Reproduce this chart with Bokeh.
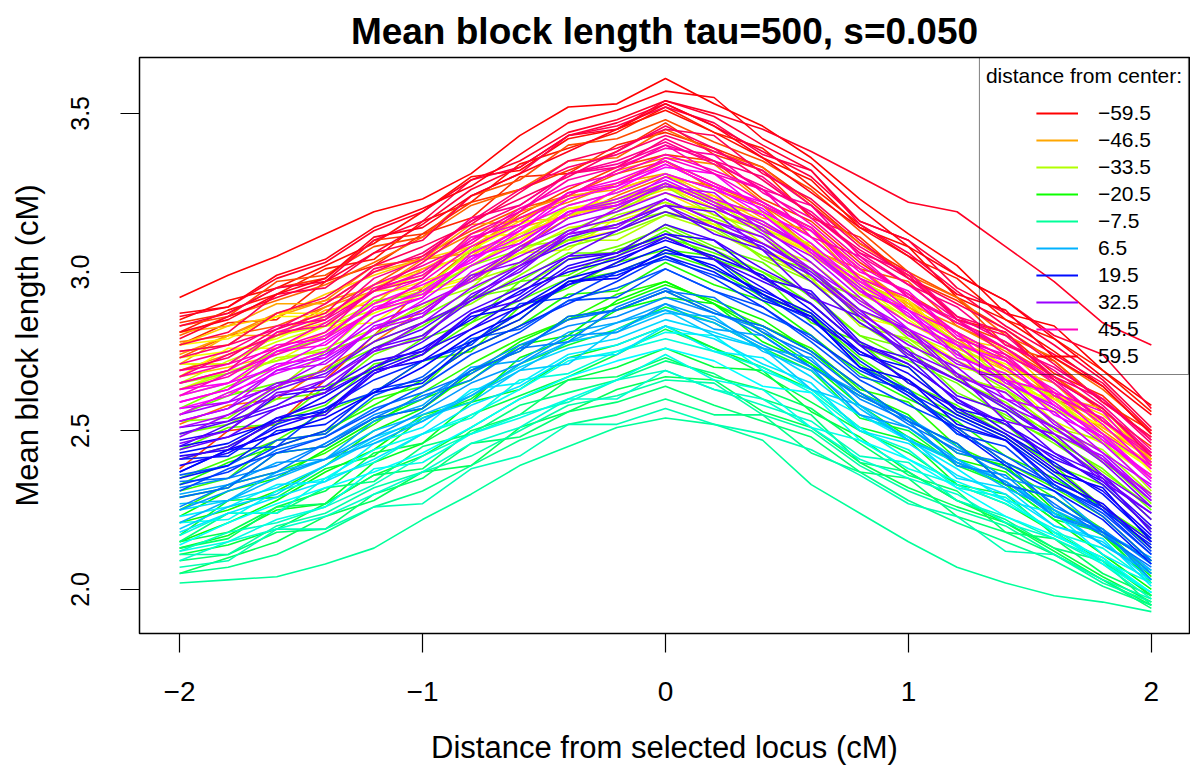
import colorsys
from bokeh.plotting import figure
from bokeh.models import Range1d, FixedTicker, Legend, LegendItem
from bokeh.embed import file_html
from bokeh.resources import INLINE

# ---------------- data ----------------
positions = [-2.0, -1.8, -1.6, -1.4, -1.2, -1.0, -0.8, -0.6, -0.4, -0.2, 0.0,
             0.2, 0.4, 0.6, 0.8, 1.0, 1.2, 1.4, 1.6, 1.8, 2.0]

distances = [-59.5 + k for k in range(120)]

legend_distances = [-59.5, -46.5, -33.5, -20.5, -7.5, 6.5, 19.5, 32.5, 45.5, 59.5]

# mean block length (cM) per distance from center, read at each position
red_orange_series = [
    [2.92,2.99,3.05,3.12,3.19,3.23,3.31,3.43,3.52,3.53,3.61,3.53,3.46,3.36,3.23,3.12,3.02,2.87,2.83,2.69,2.58],
    [2.85,2.91,2.95,3.02,3.09,3.19,3.30,3.32,3.42,3.45,3.51,3.44,3.36,3.29,3.14,3.08,2.92,2.85,2.75,2.64,2.49],
    [2.81,2.88,2.93,3.01,3.04,3.16,3.22,3.34,3.39,3.44,3.52,3.44,3.39,3.27,3.15,3.05,2.98,2.85,2.79,2.69,2.56],
    [2.77,2.84,2.85,2.97,3.02,3.12,3.17,3.30,3.31,3.40,3.44,3.39,3.33,3.22,3.09,3.00,2.85,2.81,2.68,2.61,2.47],
    [2.84,2.87,2.95,2.98,3.10,3.12,3.22,3.26,3.32,3.38,3.47,3.37,3.32,3.17,3.11,2.98,2.91,2.82,2.72,2.59,2.50],
    [2.38,2.50,2.52,2.66,2.80,2.95,3.07,3.18,3.26,3.33,3.37,3.35,3.23,3.16,3.03,2.93,2.84,2.78,2.67,2.56,2.45],
    [2.83,2.86,2.97,2.99,3.08,3.11,3.24,3.29,3.40,3.42,3.48,3.41,3.35,3.26,3.13,3.00,2.92,2.77,2.72,2.59,2.48],
    [2.73,2.80,2.83,2.89,2.96,3.05,3.13,3.20,3.24,3.31,3.35,3.28,3.21,3.14,3.01,2.97,2.83,2.76,2.67,2.57,2.43],
    [2.80,2.86,2.91,2.96,3.03,3.11,3.21,3.26,3.35,3.36,3.45,3.38,3.33,3.21,3.09,2.99,2.92,2.80,2.73,2.63,2.50],
    [2.52,2.58,2.60,2.70,2.78,2.88,2.98,3.08,3.17,3.24,3.30,3.27,3.21,3.11,2.98,2.91,2.77,2.73,2.60,2.54,2.40],
    [2.78,2.80,2.87,2.91,3.02,3.04,3.12,3.17,3.22,3.28,3.35,3.26,3.21,3.07,3.01,2.90,2.83,2.75,2.65,2.53,2.43],
    [2.69,2.74,2.80,2.89,2.94,3.04,3.06,3.19,3.24,3.32,3.36,3.34,3.22,3.14,3.01,2.89,2.81,2.73,2.62,2.50,2.39],
    [2.74,2.80,2.86,2.91,2.95,3.01,3.08,3.17,3.23,3.28,3.31,3.26,3.17,3.13,2.97,2.90,2.79,2.69,2.61,2.53,2.41],
]
yellow_series = [
    [2.81,2.83,2.90,2.90,3.00,3.04,3.15,3.16,3.24,3.26,3.31,3.22,3.19,3.08,2.99,2.91,2.81,2.70,2.65,2.51,2.41],
    [2.71,2.80,2.80,2.88,2.90,3.01,3.05,3.14,3.18,3.22,3.28,3.23,3.15,3.08,2.93,2.89,2.78,2.72,2.61,2.57,2.41],
    [2.67,2.70,2.74,2.81,2.90,2.95,3.04,3.12,3.18,3.21,3.27,3.20,3.19,3.05,2.97,2.86,2.76,2.69,2.60,2.51,2.42],
    [2.77,2.83,2.86,2.93,2.99,3.04,3.08,3.16,3.17,3.26,3.31,3.24,3.16,3.06,2.97,2.90,2.79,2.76,2.62,2.55,2.42],
    [2.71,2.71,2.80,2.84,2.92,2.97,3.02,3.10,3.18,3.21,3.26,3.24,3.13,3.06,2.94,2.84,2.76,2.70,2.59,2.49,2.39],
    [2.75,2.77,2.87,2.87,2.94,2.95,3.06,3.10,3.20,3.20,3.25,3.18,3.14,3.06,2.95,2.84,2.77,2.64,2.60,2.49,2.40],
    [2.77,2.79,2.86,2.86,2.96,3.00,3.11,3.12,3.20,3.22,3.27,3.20,3.14,3.07,2.95,2.91,2.77,2.71,2.62,2.53,2.40],
    [2.67,2.76,2.76,2.83,2.84,2.94,2.98,3.06,3.10,3.13,3.19,3.15,3.07,3.01,2.86,2.82,2.72,2.66,2.56,2.52,2.37],
    [2.73,2.75,2.79,2.86,2.94,2.99,3.07,3.15,3.20,3.23,3.28,3.21,3.19,3.05,2.96,2.85,2.75,2.67,2.58,2.48,2.38],
    [2.63,2.69,2.72,2.80,2.87,2.93,2.97,3.06,3.07,3.17,3.22,3.15,3.07,2.97,2.88,2.81,2.70,2.67,2.53,2.46,2.35],
    [2.71,2.71,2.80,2.83,2.90,2.94,2.99,3.06,3.14,3.16,3.21,3.20,3.09,3.03,2.91,2.81,2.74,2.68,2.58,2.48,2.39],
    [2.65,2.72,2.78,2.83,2.88,2.94,3.02,3.11,3.18,3.23,3.27,3.22,3.13,3.09,2.93,2.86,2.75,2.65,2.57,2.49,2.35],
    [2.61,2.65,2.73,2.75,2.88,2.94,3.07,3.11,3.21,3.25,3.31,3.22,3.19,3.07,2.98,2.88,2.78,2.66,2.61,2.46,2.36],
    [2.63,2.68,2.72,2.76,2.82,2.89,2.97,3.02,3.10,3.10,3.18,3.13,3.05,2.98,2.83,2.79,2.68,2.62,2.51,2.47,2.31],
    [2.55,2.62,2.63,2.75,2.80,2.90,2.95,3.08,3.10,3.18,3.22,3.17,3.11,3.01,2.88,2.81,2.67,2.63,2.50,2.44,2.30],
    [2.65,2.68,2.75,2.79,2.91,2.93,3.02,3.07,3.13,3.19,3.27,3.18,3.13,2.98,2.92,2.79,2.72,2.63,2.53,2.40,2.30],
    [2.53,2.54,2.64,2.69,2.78,2.84,2.90,2.99,3.08,3.12,3.18,3.16,3.04,2.97,2.84,2.74,2.66,2.59,2.48,2.37,2.26],
    [2.57,2.64,2.70,2.75,2.80,2.86,2.94,3.03,3.10,3.15,3.19,3.14,3.05,3.01,2.85,2.78,2.67,2.57,2.49,2.41,2.27],
    [2.49,2.52,2.60,2.62,2.74,2.80,2.92,2.95,3.04,3.08,3.14,3.07,3.00,2.93,2.80,2.76,2.62,2.55,2.46,2.36,2.22],
    [2.55,2.61,2.65,2.69,2.76,2.83,2.92,2.97,3.06,3.06,3.15,3.08,3.03,2.92,2.80,2.72,2.65,2.54,2.47,2.38,2.25],
]
green_series = [
    [2.44,2.51,2.52,2.64,2.69,2.79,2.84,2.97,2.99,3.07,3.11,3.06,3.00,2.90,2.77,2.70,2.56,2.52,2.39,2.33,2.19],
    [2.41,2.45,2.53,2.58,2.71,2.74,2.84,2.91,2.98,3.05,3.13,3.04,2.99,2.84,2.78,2.65,2.58,2.49,2.39,2.26,2.16],
    [2.35,2.41,2.47,2.56,2.62,2.72,2.75,2.89,2.95,3.03,3.07,3.05,2.93,2.86,2.73,2.63,2.55,2.48,2.37,2.26,2.15],
    [2.31,2.35,2.47,2.49,2.60,2.64,2.78,2.85,2.97,3.00,3.06,3.01,2.92,2.87,2.71,2.62,2.51,2.40,2.32,2.23,2.09],
    [2.25,2.33,2.37,2.43,2.52,2.62,2.71,2.79,2.85,2.93,2.97,2.90,2.83,2.76,2.63,2.59,2.45,2.38,2.29,2.19,2.05],
    [2.33,2.40,2.45,2.50,2.58,2.66,2.76,2.83,2.93,2.94,3.03,2.96,2.91,2.80,2.68,2.60,2.53,2.42,2.35,2.26,2.13],
    [2.21,2.25,2.31,2.39,2.50,2.57,2.68,2.78,2.85,2.90,2.96,2.91,2.85,2.75,2.62,2.55,2.41,2.37,2.24,2.18,2.04],
    [2.23,2.31,2.35,2.44,2.53,2.60,2.66,2.77,2.80,2.91,2.97,2.90,2.81,2.71,2.61,2.54,2.43,2.39,2.25,2.17,2.03],
    [2.15,2.21,2.28,2.37,2.44,2.55,2.59,2.73,2.79,2.88,2.92,2.90,2.78,2.71,2.58,2.48,2.40,2.33,2.22,2.11,2.00],
    [2.29,2.32,2.43,2.45,2.54,2.57,2.69,2.75,2.86,2.88,2.94,2.87,2.83,2.75,2.64,2.53,2.46,2.33,2.29,2.18,2.09],
    [2.13,2.17,2.25,2.27,2.40,2.46,2.59,2.63,2.73,2.77,2.83,2.76,2.70,2.63,2.51,2.47,2.33,2.27,2.18,2.09,1.98],
    [2.17,2.28,2.29,2.38,2.42,2.54,2.60,2.71,2.77,2.82,2.89,2.84,2.76,2.69,2.54,2.50,2.39,2.33,2.22,2.18,2.02],
    [2.11,2.14,2.19,2.27,2.36,2.42,2.51,2.60,2.66,2.70,2.76,2.70,2.69,2.56,2.48,2.37,2.28,2.21,2.13,2.04,1.96],
    [2.15,2.18,2.26,2.31,2.43,2.46,2.55,2.61,2.67,2.74,2.82,2.76,2.68,2.59,2.50,2.43,2.33,2.30,2.17,2.10,1.98],
    [2.05,2.10,2.15,2.23,2.28,2.37,2.39,2.51,2.56,2.63,2.67,2.66,2.56,2.51,2.40,2.32,2.26,2.21,2.12,2.03,1.95],
    [2.13,2.16,2.26,2.27,2.36,2.38,2.50,2.55,2.66,2.67,2.73,2.67,2.63,2.57,2.46,2.36,2.31,2.18,2.16,2.05,1.98],
    [2.09,2.11,2.18,2.19,2.30,2.35,2.46,2.48,2.56,2.59,2.64,2.58,2.53,2.48,2.37,2.35,2.23,2.18,2.11,2.03,1.94],
    [2.15,2.24,2.24,2.32,2.34,2.45,2.49,2.58,2.62,2.66,2.72,2.68,2.60,2.55,2.40,2.37,2.28,2.22,2.13,2.09,1.95],
    [2.05,2.07,2.11,2.18,2.26,2.31,2.39,2.47,2.52,2.55,2.60,2.55,2.55,2.43,2.37,2.28,2.21,2.15,2.09,2.01,1.95],
    [2.02,2.03,2.04,2.08,2.13,2.22,2.30,2.39,2.45,2.51,2.54,2.52,2.47,2.33,2.24,2.15,2.07,2.02,1.98,1.96,1.93],
    [2.11,2.11,2.20,2.24,2.32,2.37,2.42,2.50,2.58,2.61,2.66,2.65,2.55,2.50,2.39,2.31,2.25,2.20,2.11,2.02,1.96],
    [2.07,2.09,2.19,2.19,2.26,2.27,2.38,2.42,2.52,2.52,2.57,2.52,2.49,2.44,2.36,2.27,2.23,2.12,2.11,2.03,1.97],
    [2.12,2.18,2.21,2.26,2.33,2.42,2.49,2.55,2.59,2.66,2.69,2.63,2.58,2.53,2.42,2.40,2.28,2.23,2.16,2.08,1.97],
    [2.09,2.15,2.19,2.23,2.30,2.37,2.46,2.51,2.60,2.60,2.69,2.63,2.60,2.51,2.41,2.35,2.30,2.21,2.16,2.09,1.99],
]
cyan_blue_series = [
    [2.17,2.24,2.24,2.35,2.40,2.49,2.54,2.66,2.68,2.75,2.79,2.75,2.70,2.62,2.50,2.44,2.32,2.29,2.18,2.13,2.02],
    [2.12,2.15,2.22,2.26,2.38,2.40,2.49,2.54,2.60,2.66,2.74,2.66,2.63,2.51,2.47,2.38,2.33,2.27,2.19,2.09,2.02],
    [2.21,2.22,2.31,2.35,2.44,2.49,2.55,2.63,2.72,2.75,2.81,2.80,2.69,2.63,2.51,2.41,2.34,2.28,2.18,2.08,1.99],
    [2.14,2.21,2.27,2.32,2.37,2.43,2.51,2.60,2.67,2.72,2.76,2.72,2.64,2.62,2.47,2.41,2.32,2.23,2.17,2.10,1.99],
    [2.23,2.26,2.33,2.34,2.46,2.51,2.63,2.65,2.74,2.77,2.83,2.75,2.73,2.63,2.55,2.47,2.38,2.28,2.24,2.11,2.03],
    [2.18,2.24,2.29,2.34,2.41,2.49,2.58,2.64,2.73,2.74,2.83,2.79,2.71,2.65,2.50,2.46,2.36,2.30,2.20,2.16,2.01],
    [2.25,2.28,2.32,2.39,2.48,2.53,2.62,2.70,2.76,2.79,2.85,2.81,2.76,2.67,2.55,2.48,2.35,2.32,2.20,2.15,2.03],
    [2.19,2.26,2.30,2.39,2.47,2.54,2.59,2.69,2.71,2.82,2.88,2.80,2.76,2.63,2.58,2.47,2.41,2.34,2.25,2.14,2.06],
    [2.27,2.28,2.37,2.41,2.50,2.55,2.61,2.69,2.78,2.81,2.87,2.86,2.75,2.69,2.57,2.47,2.40,2.34,2.24,2.14,2.05],
    [2.21,2.28,2.35,2.41,2.46,2.53,2.61,2.71,2.78,2.84,2.88,2.84,2.76,2.73,2.58,2.51,2.41,2.32,2.25,2.18,2.06],
    [2.30,2.33,2.40,2.41,2.53,2.58,2.70,2.72,2.81,2.84,2.90,2.82,2.80,2.70,2.62,2.54,2.45,2.35,2.31,2.18,2.10],
    [2.25,2.31,2.36,2.41,2.48,2.56,2.65,2.71,2.80,2.81,2.90,2.85,2.77,2.70,2.55,2.51,2.40,2.34,2.23,2.19,2.03],
    [2.32,2.35,2.39,2.46,2.55,2.60,2.69,2.77,2.83,2.86,2.92,2.87,2.82,2.72,2.60,2.53,2.39,2.36,2.23,2.18,2.05],
    [2.26,2.33,2.37,2.46,2.54,2.61,2.66,2.76,2.78,2.89,2.95,2.88,2.80,2.70,2.61,2.54,2.43,2.40,2.26,2.19,2.08],
    [2.34,2.35,2.44,2.48,2.57,2.62,2.68,2.76,2.85,2.88,2.94,2.92,2.81,2.74,2.62,2.52,2.44,2.38,2.27,2.17,2.07],
    [2.29,2.32,2.43,2.45,2.54,2.57,2.69,2.75,2.86,2.88,2.94,2.87,2.83,2.75,2.64,2.53,2.46,2.33,2.29,2.18,2.09],
    [2.36,2.39,2.47,2.49,2.61,2.67,2.79,2.82,2.91,2.95,3.01,2.94,2.87,2.80,2.67,2.63,2.49,2.42,2.33,2.23,2.09],
    [2.31,2.38,2.43,2.48,2.56,2.64,2.74,2.81,2.91,2.92,3.01,2.94,2.89,2.78,2.66,2.58,2.51,2.40,2.33,2.24,2.11],
    [2.37,2.44,2.45,2.57,2.62,2.72,2.77,2.90,2.92,3.00,3.04,2.99,2.93,2.83,2.70,2.63,2.49,2.45,2.32,2.26,2.12],
    [2.33,2.37,2.45,2.50,2.63,2.66,2.76,2.83,2.90,2.97,3.05,2.98,2.89,2.79,2.69,2.62,2.51,2.47,2.33,2.25,2.11],
    [2.41,2.42,2.52,2.57,2.66,2.72,2.78,2.87,2.96,3.00,3.06,3.04,2.92,2.85,2.72,2.62,2.54,2.47,2.36,2.25,2.14],
    [2.35,2.39,2.50,2.52,2.62,2.65,2.78,2.85,2.97,2.99,3.05,3.00,2.91,2.86,2.70,2.61,2.50,2.39,2.31,2.22,2.08],
    [2.43,2.46,2.54,2.56,2.68,2.74,2.86,2.89,2.98,3.02,3.08,3.01,2.94,2.87,2.74,2.70,2.56,2.49,2.40,2.30,2.16],
    [2.37,2.44,2.49,2.54,2.62,2.70,2.80,2.87,2.97,2.98,3.07,3.02,2.93,2.86,2.70,2.66,2.55,2.48,2.37,2.32,2.15],
    [2.45,2.48,2.53,2.61,2.70,2.76,2.85,2.94,3.00,3.04,3.10,3.05,2.99,2.88,2.75,2.66,2.52,2.47,2.34,2.27,2.13],
    [2.39,2.43,2.51,2.56,2.69,2.72,2.82,2.89,2.96,3.03,3.11,3.04,2.95,2.85,2.75,2.68,2.57,2.53,2.39,2.31,2.17],
    [2.42,2.44,2.54,2.59,2.69,2.75,2.82,2.92,3.02,3.06,3.12,3.10,2.98,2.90,2.77,2.65,2.57,2.49,2.38,2.26,2.15],
    [2.47,2.50,2.61,2.63,2.72,2.75,2.87,2.93,3.04,3.06,3.12,3.07,2.98,2.94,2.78,2.71,2.60,2.50,2.42,2.34,2.20],
    [2.41,2.45,2.53,2.55,2.68,2.74,2.87,2.91,3.01,3.05,3.11,3.04,2.97,2.90,2.77,2.73,2.59,2.52,2.43,2.33,2.19],
    [2.45,2.52,2.57,2.62,2.70,2.78,2.88,2.95,3.05,3.06,3.15,3.10,3.01,2.93,2.77,2.71,2.60,2.52,2.41,2.35,2.18],
]
violet_red_series = [
    [2.49,2.53,2.58,2.66,2.76,2.82,2.92,3.02,3.09,3.13,3.19,3.14,3.08,2.97,2.84,2.75,2.61,2.56,2.43,2.36,2.22],
    [2.44,2.48,2.57,2.62,2.76,2.80,2.91,2.98,3.05,3.13,3.21,3.12,3.07,2.92,2.86,2.73,2.66,2.57,2.47,2.34,2.24],
    [2.51,2.53,2.63,2.68,2.78,2.84,2.91,3.01,3.11,3.15,3.21,3.19,3.07,2.99,2.86,2.74,2.66,2.58,2.47,2.35,2.24],
    [2.46,2.50,2.62,2.64,2.75,2.79,2.93,3.00,3.12,3.15,3.21,3.14,3.09,3.00,2.88,2.75,2.68,2.53,2.49,2.36,2.26],
    [2.53,2.57,2.65,2.67,2.80,2.86,2.99,3.03,3.13,3.17,3.23,3.16,3.09,3.01,2.88,2.82,2.68,2.60,2.51,2.40,2.26],
    [2.48,2.55,2.61,2.66,2.75,2.84,2.95,3.02,3.12,3.14,3.23,3.16,3.11,2.99,2.87,2.77,2.70,2.58,2.51,2.41,2.28],
    [2.55,2.59,2.64,2.72,2.82,2.88,2.98,3.08,3.15,3.19,3.25,3.20,3.14,3.03,2.90,2.81,2.67,2.62,2.49,2.42,2.28],
    [2.51,2.55,2.64,2.69,2.83,2.87,2.98,3.05,3.12,3.20,3.28,3.21,3.12,3.01,2.91,2.82,2.71,2.66,2.52,2.43,2.29],
    [2.57,2.59,2.69,2.74,2.84,2.90,2.97,3.07,3.17,3.21,3.27,3.25,3.13,3.05,2.92,2.80,2.72,2.64,2.53,2.41,2.30],
    [2.53,2.57,2.69,2.71,2.82,2.86,3.00,3.07,3.19,3.22,3.28,3.21,3.16,3.07,2.95,2.82,2.75,2.60,2.56,2.43,2.33],
    [2.59,2.63,2.71,2.73,2.86,2.92,3.05,3.09,3.19,3.23,3.29,3.22,3.15,3.07,2.94,2.88,2.74,2.66,2.57,2.46,2.32],
    [2.55,2.62,2.68,2.73,2.82,2.91,3.02,3.09,3.19,3.21,3.30,3.23,3.18,3.06,2.94,2.84,2.77,2.65,2.58,2.48,2.35],
    [2.61,2.65,2.70,2.78,2.88,2.94,3.04,3.14,3.21,3.25,3.31,3.26,3.20,3.09,2.96,2.87,2.73,2.68,2.55,2.48,2.34],
    [2.57,2.61,2.70,2.75,2.89,2.93,3.04,3.11,3.18,3.26,3.34,3.27,3.18,3.07,2.97,2.88,2.77,2.72,2.58,2.49,2.35],
    [2.63,2.65,2.75,2.80,2.90,2.96,3.03,3.13,3.23,3.27,3.33,3.31,3.19,3.11,2.98,2.86,2.78,2.70,2.59,2.47,2.36],
    [2.59,2.63,2.75,2.77,2.88,2.92,3.06,3.13,3.25,3.28,3.34,3.27,3.22,3.13,3.01,2.88,2.81,2.66,2.62,2.49,2.39],
    [2.65,2.69,2.77,2.79,2.92,2.98,3.11,3.15,3.25,3.29,3.35,3.28,3.21,3.13,3.00,2.94,2.80,2.72,2.63,2.52,2.38],
    [2.61,2.68,2.74,2.79,2.88,2.97,3.08,3.15,3.25,3.27,3.36,3.31,3.22,3.14,2.98,2.92,2.81,2.73,2.62,2.56,2.39],
    [2.67,2.71,2.76,2.84,2.94,3.00,3.10,3.20,3.27,3.31,3.37,3.32,3.26,3.15,3.02,2.93,2.79,2.74,2.61,2.54,2.40],
    [2.63,2.67,2.76,2.81,2.95,2.99,3.10,3.17,3.24,3.32,3.40,3.31,3.26,3.11,3.05,2.92,2.85,2.76,2.66,2.53,2.43],
    [2.69,2.71,2.81,2.86,2.96,3.02,3.09,3.19,3.29,3.33,3.39,3.37,3.25,3.17,3.04,2.92,2.84,2.76,2.65,2.53,2.42],
    [2.65,2.69,2.81,2.83,2.94,2.98,3.12,3.19,3.31,3.34,3.40,3.35,3.26,3.21,3.05,2.96,2.85,2.74,2.66,2.57,2.43],
    [2.71,2.75,2.83,2.85,2.98,3.04,3.17,3.21,3.31,3.35,3.41,3.34,3.27,3.19,3.06,3.00,2.86,2.78,2.69,2.58,2.44],
    [2.67,2.74,2.80,2.85,2.94,3.03,3.14,3.21,3.31,3.33,3.42,3.35,3.30,3.18,3.06,2.96,2.89,2.77,2.70,2.60,2.47],
    [2.73,2.77,2.82,2.90,3.00,3.06,3.16,3.26,3.33,3.37,3.43,3.38,3.32,3.21,3.08,2.99,2.85,2.80,2.67,2.60,2.46],
    [2.69,2.73,2.82,2.87,3.01,3.05,3.16,3.23,3.30,3.38,3.46,3.39,3.29,3.18,3.07,2.98,2.86,2.81,2.66,2.57,2.42],
    [2.75,2.77,2.87,2.92,3.02,3.08,3.15,3.25,3.35,3.39,3.45,3.43,3.31,3.23,3.10,2.98,2.90,2.82,2.71,2.59,2.48],
    [2.77,2.81,2.93,2.95,3.06,3.10,3.24,3.31,3.43,3.46,3.52,3.47,3.37,3.32,3.15,3.06,2.94,2.83,2.74,2.65,2.50],
    [2.83,2.87,2.95,2.97,3.10,3.16,3.29,3.33,3.43,3.47,3.53,3.46,3.38,3.30,3.16,3.10,2.95,2.87,2.77,2.66,2.51],
    [2.79,2.86,2.92,2.97,3.06,3.15,3.26,3.33,3.43,3.45,3.54,3.49,3.40,3.32,3.16,3.10,2.99,2.91,2.80,2.74,2.57],
    [2.86,2.89,2.98,3.03,3.13,3.19,3.29,3.35,3.44,3.48,3.54,3.50,3.45,3.38,3.30,3.22,3.19,3.08,2.97,2.84,2.77],
    [2.81,2.85,2.93,2.98,3.11,3.14,3.24,3.31,3.38,3.45,3.53,3.46,3.36,3.25,3.14,3.05,2.93,2.88,2.73,2.64,2.49],
    [2.87,2.89,2.99,3.04,3.14,3.20,3.27,3.37,3.47,3.51,3.57,3.55,3.42,3.34,3.20,3.08,2.99,2.91,2.79,2.67,2.55],
]

all_series = red_orange_series + yellow_series + green_series + cyan_blue_series + violet_red_series

# ---------------- styling ----------------
FONT = "Liberation Sans"
n = len(distances)


def rainbow(k, total):
    r, g, b = colorsys.hsv_to_rgb(k / total, 1.0, 1.0)
    return "#%02X%02X%02X" % (int(round(r * 255)), int(round(g * 255)), int(round(b * 255)))


colors = [rainbow(k, n) for k in range(n)]

p = figure(width=1190, height=767, output_backend="svg", toolbar_location=None,
           x_range=Range1d(-2.165, 2.157), y_range=Range1d(1.861, 3.676),
           min_border_left=139, min_border_right=1, min_border_top=57, min_border_bottom=134,
           title="Mean block length tau=500, s=0.050")

p.background_fill_color = "white"
p.border_fill_color = "white"
p.outline_line_color = "black"
p.outline_line_width = 1.5
p.xgrid.visible = False
p.ygrid.visible = False

p.title.text_font = FONT
p.title.text_font_size = "37px"
p.title.text_font_style = "bold"
p.title.text_color = "black"
p.title.align = "center"
p.title.standoff = 12

p.xaxis.ticker = FixedTicker(ticks=[-2, -1, 0, 1, 2])
p.xaxis.major_label_overrides = {-2: "\u22122", -1: "\u22121", 0: "0", 1: "1", 2: "2"}
p.yaxis.ticker = FixedTicker(ticks=[2.0, 2.5, 3.0, 3.5])
p.yaxis.major_label_overrides = {2.0: "2.0", 2.5: "2.5", 3.0: "3.0", 3.5: "3.5"}
p.yaxis.major_label_orientation = "vertical"

for ax in (p.xaxis[0], p.yaxis[0]):
    ax.axis_line_color = None
    ax.major_tick_line_color = "black"
    ax.major_tick_line_width = 1.2
    ax.major_tick_out = 19
    ax.major_tick_in = 0
    ax.minor_tick_line_color = None
    ax.major_label_text_font = FONT
    ax.major_label_text_color = "black"
    ax.axis_label_text_font = FONT
    ax.axis_label_text_font_style = "normal"
    ax.axis_label_text_font_size = "31px"
    ax.axis_label_text_color = "black"

p.xaxis.axis_label = "Distance from selected locus (cM)"
p.xaxis.major_label_text_font_size = "28px"
p.xaxis.major_label_standoff = 29
p.xaxis.axis_label_standoff = 26

p.yaxis.axis_label = "Mean block length (cM)"
p.yaxis.major_label_text_font_size = "25px"
p.yaxis.major_label_standoff = 31
p.yaxis.axis_label_standoff = 24

p.multi_line(xs=[positions] * n, ys=all_series, line_color=colors, line_width=1.6)

# legend: one-point sample renderers (invisible on the plot) carry each entry's style
items = []
for d in legend_distances:
    k = distances.index(d)
    r = p.line(x=[positions[0]], y=[all_series[k][0]], line_color=colors[k],
               line_width=1.8, line_dash="0 50 42 1000")
    label = ("\u2212" + ("%g" % abs(d))) if d < 0 else ("%g" % d)
    items.append(LegendItem(label=label, renderers=[r]))

legend = Legend(items=items, location="top_right", title="distance from center:",
                title_text_font=FONT, title_text_font_size="21px", title_text_font_style="normal",
                title_text_color="black", title_standoff=13,
                label_text_font=FONT, label_text_font_size="21px", label_text_color="black",
                glyph_width=92, glyph_height=20, label_height=24, label_standoff=20,
                spacing=3, padding=6, margin=0,
                border_line_color="black", border_line_width=1.5,
                background_fill_alpha=0.0)
p.add_layout(legend)

open("out.html", "w").write(file_html(p, INLINE))
